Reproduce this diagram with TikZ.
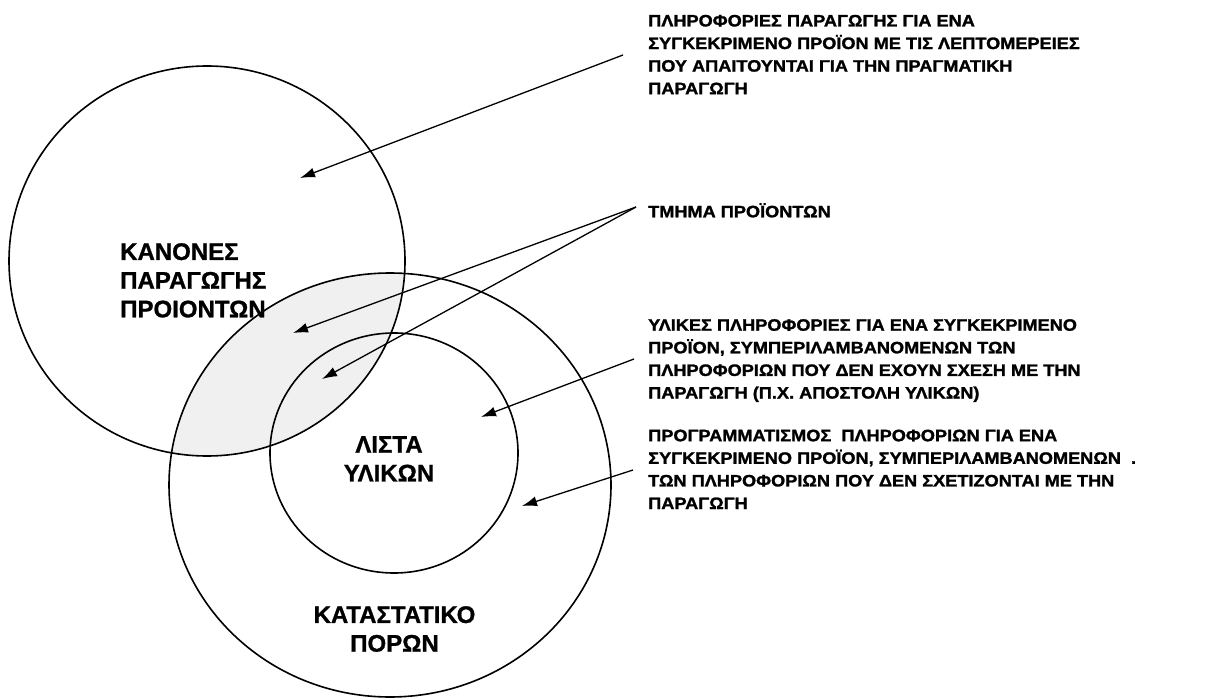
\documentclass[tikz,border=0pt]{standalone}
\usepackage{fontspec}
\setmainfont{Liberation Sans}
\newfontfamily\rtfont{Liberation Sans}[FakeStretch=1.1,FakeBold=1.5]
\newfontfamily\clfont{Liberation Sans}[FakeBold=1]
\usetikzlibrary{arrows.meta,shapes.geometric}
\begin{document}
\begin{tikzpicture}[x=1pt,y=-1pt,
 ring/.style={draw, ellipse, line width=1.6pt, inner sep=0pt, outer sep=0pt},
 arr/.style={line width=1.3pt, -{Latex[length=15pt,width=10pt]}},
 clabel/.style={inner sep=0pt, font=\clfont\bfseries\fontsize{24}{28.7}\selectfont, align=center},
 rlabel/.style={inner sep=0pt, anchor=north west, align=left, font=\rtfont\bfseries\fontsize{16.5}{22.6}\selectfont},
 lens/.style={fill=black!6}]
\useasboundingbox (0,0) rectangle (1220,700);
\begin{scope}
 \clip (207,261) ellipse [x radius=198pt, y radius=195pt];
 \fill[lens] (390,485) ellipse [x radius=221pt, y radius=212pt];
\end{scope}
\node[ring, minimum width=396pt, minimum height=390pt] (kan) at (207,261) {};
\node[ring, minimum width=442pt, minimum height=424pt] (kat) at (390,485) {};
\node[ring, minimum width=248pt, minimum height=240pt] (lis) at (394,453) {};

\node[clabel, anchor=north west, align=left] (kanl) at (120,243) {ΚΑΝΟΝΕΣ\\ΠΑΡΑΓΩΓΗΣ\\ΠΡΟΙΟΝΤΩΝ};
\node[clabel, anchor=north] (lisl) at (389,436) {ΛΙΣΤΑ\\ΥΛΙΚΩΝ};
\node[clabel, anchor=north] (katl) at (394.5,606) {ΚΑΤΑΣΤΑΤΙΚΟ\\ΠΟΡΩΝ};

\node[rlabel] (t1) at (648,14.7) {ΠΛΗΡΟΦΟΡΙΕΣ ΠΑΡΑΓΩΓΗΣ ΓΙΑ ΕΝΑ\\ΣΥΓΚΕΚΡΙΜΕΝΟ ΠΡΟΪΟΝ ΜΕ ΤΙΣ ΛΕΠΤΟΜΕΡΕΙΕΣ\\ΠΟΥ ΑΠΑΙΤΟΥΝΤΑΙ ΓΙΑ ΤΗΝ ΠΡΑΓΜΑΤΙΚΗ\\ΠΑΡΑΓΩΓΗ};
\node[rlabel] (t2) at (648,203) {ΤΜΗΜΑ ΠΡΟΪΟΝΤΩΝ};
\node[rlabel] (t3) at (648,319) {ΥΛΙΚΕΣ ΠΛΗΡΟΦΟΡΙΕΣ ΓΙΑ ΕΝΑ ΣΥΓΚΕΚΡΙΜΕΝΟ\\ΠΡΟΪΟΝ, ΣΥΜΠΕΡΙΛΑΜΒΑΝΟΜΕΝΩΝ ΤΩΝ\\ΠΛΗΡΟΦΟΡΙΩΝ ΠΟΥ ΔΕΝ ΕΧΟΥΝ ΣΧΕΣΗ ΜΕ ΤΗΝ\\ΠΑΡΑΓΩΓΗ (Π.Χ. ΑΠΟΣΤΟΛΗ ΥΛΙΚΩΝ)};
\node[rlabel] (t4) at (648,429.5) {ΠΡΟΓΡΑΜΜΑΤΙΣΜΟΣ\ \ ΠΛΗΡΟΦΟΡΙΩΝ ΓΙΑ ΕΝΑ\\ΣΥΓΚΕΚΡΙΜΕΝΟ ΠΡΟΪΟΝ, ΣΥΜΠΕΡΙΛΑΜΒΑΝΟΜΕΝΩΝ\ \ .\\ΤΩΝ ΠΛΗΡΟΦΟΡΙΩΝ ΠΟΥ ΔΕΝ ΣΧΕΤΙΖΟΝΤΑΙ ΜΕ ΤΗΝ\\ΠΑΡΑΓΩΓΗ};

\coordinate (s1) at (623,55);
\coordinate (e1) at (300,178);
\coordinate (s2) at (636,207);
\coordinate (e2) at (293,333);
\coordinate (e3) at (322,379);
\coordinate (s4) at (634,359);
\coordinate (e4) at (481,417);
\coordinate (s5) at (633,470);
\coordinate (e5) at (522,506);

\draw[arr] (s1) -- (e1);
\draw[arr] (s2) -- (e2);
\draw[arr] (s2) -- (e3);
\draw[arr] (s4) -- (e4);
\draw[arr] (s5) -- (e5);
\end{tikzpicture}
\end{document}
